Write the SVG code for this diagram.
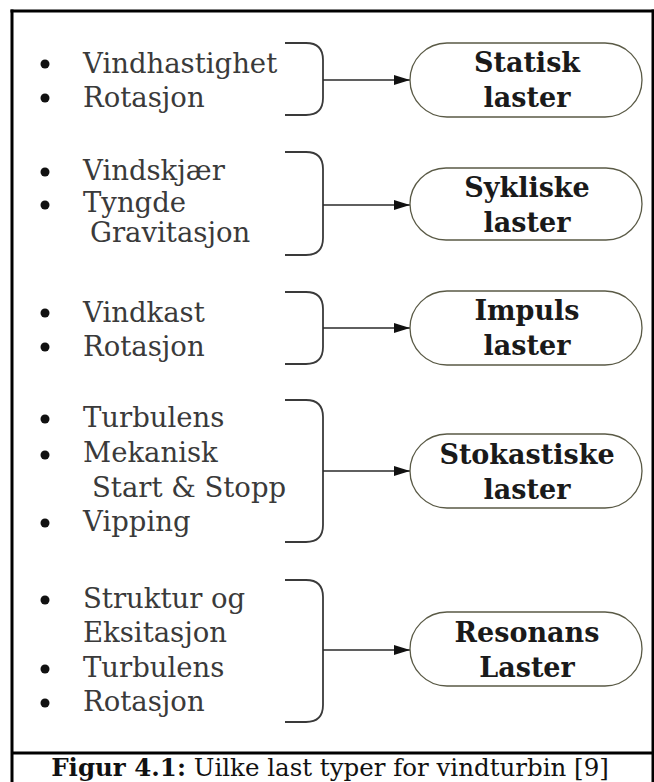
<svg xmlns="http://www.w3.org/2000/svg" width="654" height="782" viewBox="0 0 654 782">
<defs>
<style>
.item{font-family:"DejaVu Serif","Liberation Serif",serif;font-size:27.5px;fill:#3a3a3a}
.lbl{font-family:"DejaVu Serif","Liberation Serif",serif;font-size:27px;font-weight:bold;fill:#1a1a1a;text-anchor:middle}
.node{fill:#ffffff;stroke:#5a5a46;stroke-width:1.3}
.brace{fill:none;stroke:#3a3a3a;stroke-width:1.8}
.conn{fill:none;stroke:#2a2a2a;stroke-width:1.5}
.dot{fill:#111111}
.frame{stroke:#000000;stroke-width:3}
</style>
<marker id="arr" markerWidth="16" markerHeight="10" refX="16" refY="5" orient="auto" markerUnits="userSpaceOnUse">
<polygon points="0,0 16,5 0,10" fill="#111111"/>
</marker>
</defs>
<rect x="0" y="0" width="654" height="782" fill="#ffffff"/>
<g id="frame">
<line class="frame" x1="10.5" y1="11" x2="654" y2="11"/>
<line class="frame" x1="12" y1="9.5" x2="12" y2="782"/>
<line class="frame" x1="653" y1="9.5" x2="653" y2="782"/>
<line class="frame" x1="12" y1="753" x2="654" y2="753"/>
</g>

<g id="list1">
<circle class="dot" cx="45" cy="64" r="4.5"/><circle class="dot" cx="45" cy="98" r="4.5"/>
<text class="item" x="83" y="73">Vindhastighet</text>
<text class="item" x="83" y="107">Rotasjon</text>
<path class="brace" d="M285 43 H306 Q323 43 323 60 V98 Q323 115 306 115 H285"/>
</g>
<g id="list2">
<circle class="dot" cx="45" cy="172" r="4.5"/><circle class="dot" cx="45" cy="205" r="4.5"/>
<text class="item" x="83" y="180">Vindskjær</text>
<text class="item" x="83" y="212">Tyngde</text>
<text class="item" x="90" y="242">Gravitasjon</text>
<path class="brace" d="M285 152 H306 Q323 152 323 169 V238 Q323 255 306 255 H285"/>
</g>
<g id="list3">
<circle class="dot" cx="45" cy="313" r="4.5"/><circle class="dot" cx="45" cy="347" r="4.5"/>
<text class="item" x="83" y="322">Vindkast</text>
<text class="item" x="83" y="356">Rotasjon</text>
<path class="brace" d="M285 292 H306 Q323 292 323 309 V347 Q323 364 306 364 H285"/>
</g>
<g id="list4">
<circle class="dot" cx="45" cy="419" r="4.5"/><circle class="dot" cx="45" cy="455" r="4.5"/><circle class="dot" cx="45" cy="523" r="4.5"/>
<text class="item" x="83" y="427">Turbulens</text>
<text class="item" x="83" y="462">Mekanisk</text>
<text class="item" x="92" y="497">Start &amp; Stopp</text>
<text class="item" x="83" y="531">Vipping</text>
<path class="brace" d="M285 400 H306 Q323 400 323 417 V525 Q323 542 306 542 H285"/>
</g>
<g id="list5">
<circle class="dot" cx="45" cy="600" r="4.5"/><circle class="dot" cx="45" cy="669" r="4.5"/><circle class="dot" cx="45" cy="703" r="4.5"/>
<text class="item" x="83" y="608">Struktur og</text>
<text class="item" x="83" y="642">Eksitasjon</text>
<text class="item" x="83" y="677">Turbulens</text>
<text class="item" x="83" y="711">Rotasjon</text>
<path class="brace" d="M285 580 H306 Q323 580 323 597 V705 Q323 722 306 722 H285"/>
</g>

<g id="connectors">
<line class="conn" x1="323" y1="80" x2="410" y2="80" marker-end="url(#arr)"/>
<line class="conn" x1="323" y1="205" x2="410" y2="205" marker-end="url(#arr)"/>
<line class="conn" x1="323" y1="328" x2="410" y2="328" marker-end="url(#arr)"/>
<line class="conn" x1="323" y1="471" x2="410" y2="471" marker-end="url(#arr)"/>
<line class="conn" x1="323" y1="650" x2="410" y2="650" marker-end="url(#arr)"/>
</g>

<g id="statisk">
<rect class="node" x="410" y="43" width="232" height="74" rx="37" ry="37"/>
<text class="lbl" x="527" y="72">Statisk</text>
<text class="lbl" x="527" y="107">laster</text>
</g>
<g id="sykliske">
<rect class="node" x="410" y="168" width="232" height="72" rx="36" ry="36"/>
<text class="lbl" x="527" y="197">Sykliske</text>
<text class="lbl" x="527" y="232">laster</text>
</g>
<g id="impuls">
<rect class="node" x="410" y="291" width="232" height="74" rx="37" ry="37"/>
<text class="lbl" x="527" y="320">Impuls</text>
<text class="lbl" x="527" y="355">laster</text>
</g>
<g id="stokastiske">
<rect class="node" x="410" y="434" width="232" height="74" rx="37" ry="37"/>
<text class="lbl" x="527" y="464">Stokastiske</text>
<text class="lbl" x="527" y="499">laster</text>
</g>
<g id="resonans">
<rect class="node" x="410" y="612" width="232" height="74" rx="37" ry="37"/>
<text class="lbl" x="527" y="642">Resonans</text>
<text class="lbl" x="527" y="677">Laster</text>
</g>

<g id="caption">
<text x="330" y="776" text-anchor="middle" style="font-family:'DejaVu Serif','Liberation Serif',serif;font-size:24.5px;fill:#111111"><tspan font-weight="bold">Figur 4.1:</tspan> Uilke last typer for vindturbin [9]</text>
</g>
</svg>
